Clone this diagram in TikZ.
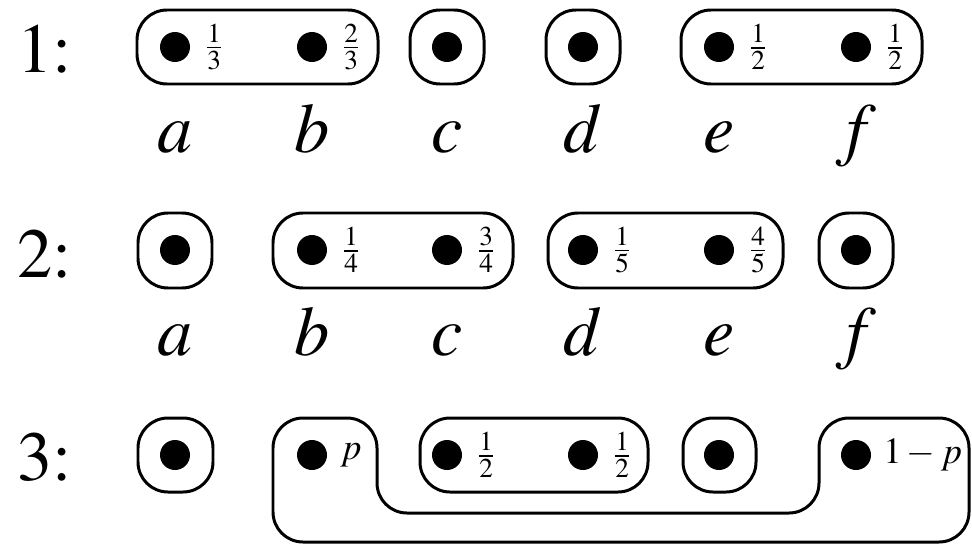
\documentclass[tikz,border=0pt]{standalone}
\usepackage[T1]{fontenc}
\usepackage{mathptmx}
\usetikzlibrary{calc}

\tikzset{
  boite/.style={draw, line width=1.7pt, rounded corners=0.6cm},
  point/.style={circle, fill=black, inner sep=0pt, minimum size=0.6cm},
  poids/.style={anchor=west, inner sep=0pt, font=\fontsize{21}{25}\selectfont},
  etiq/.style={anchor=base, inner sep=0pt, font=\fontsize{40}{48}\selectfont},
}

\begin{document}
\begin{tikzpicture}[x=0.02cm, y=-0.02cm]
  \useasboundingbox (0,0) rectangle (972,544);

  % Numeros des lignes
  \node[etiq, anchor=base west] (n1) at (17,72) {1:};
  \node[etiq, anchor=base west] (n2) at (17,277) {2:};
  \node[etiq, anchor=base west] (n3) at (17,480) {3:};

  % Points et lettres
  \foreach \n/\x in {a/175, b/312, c/447, d/583, e/719, f/856} {
    \node[point] (\n1) at (\x,47) {};
    \node[point] (\n2) at (\x,250) {};
    \node[point] (\n3) at (\x,455) {};
    \node[etiq] (l\n1) at (\x,152) {$\n$};
    \node[etiq] (l\n2) at (\x,355) {$\n$};
  }

  % Ligne 1 : {a,b} {c} {d} {e,f}
  \draw[boite] (137,10) rectangle (378,84);
  \draw[boite] (410,10) rectangle (484,84);
  \draw[boite] (546,10) rectangle (620,84);
  \draw[boite] (681,10) rectangle (922,84);
  \node[poids] (pa1) at ($(a1)+(30,0)$) {$\frac{1}{3}$};
  \node[poids] (pb1) at ($(b1)+(30,0)$) {$\frac{2}{3}$};
  \node[poids] (pe1) at ($(e1)+(30,0)$) {$\frac{1}{2}$};
  \node[poids] (pf1) at ($(f1)+(30,0)$) {$\frac{1}{2}$};

  % Ligne 2 : {a} {b,c} {d,e} {f}
  \draw[boite] (138,213) rectangle (212,288);
  \draw[boite] (273,213) rectangle (513,288);
  \draw[boite] (548,213) rectangle (783,288);
  \draw[boite] (819,213) rectangle (893,288);
  \node[poids] (pb2) at ($(b2)+(30,0)$) {$\frac{1}{4}$};
  \node[poids] (pc2) at ($(c2)+(30,0)$) {$\frac{3}{4}$};
  \node[poids] (pd2) at ($(d2)+(30,0)$) {$\frac{1}{5}$};
  \node[poids] (pe2) at ($(e2)+(30,0)$) {$\frac{4}{5}$};

  % Ligne 3 : {a} {b,f} {c,d} {e}
  \draw[boite] (138,418) rectangle (213,492);
  \draw[boite] (420,418) rectangle (648,492);
  \draw[boite] (683,418) rectangle (756,492);
  \draw[boite] (273,418) -- (377,418) -- (377,513) -- (819,513) -- (819,418)
    -- (969,418) -- (969,542) -- (273,542) -- cycle;
  \node[poids] (pb3) at ($(b3)+(28,0)$) {$p$};
  \node[poids] (pc3) at ($(c3)+(30,0)$) {$\frac{1}{2}$};
  \node[poids] (pd3) at ($(d3)+(30,0)$) {$\frac{1}{2}$};
  \node[poids] (pf3) at ($(f3)+(27,0)$) {$1-p$};
\end{tikzpicture}
\end{document}
